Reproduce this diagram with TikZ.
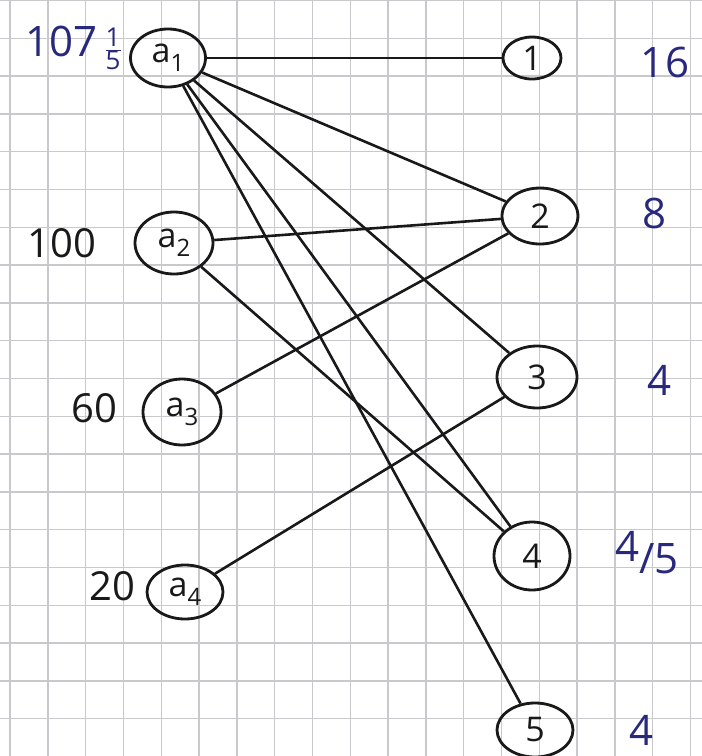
\documentclass[tikz,border=0pt]{standalone}
\usepackage{fontspec}
\setmainfont{Open Sans}
\usetikzlibrary{shapes.geometric}
\definecolor{ink}{RGB}{40,40,125}
\definecolor{pen}{RGB}{25,25,25}
\definecolor{gridc}{RGB}{200,200,205}
\newcommand{\av}[1]{a\raisebox{-9pt}{\fontsize{24}{24}\selectfont #1}}
\begin{document}
\begin{tikzpicture}[x=1pt,y=-1pt,
  vert/.style={draw=pen, ellipse, line width=2.8pt, inner sep=0pt, text=pen, font=\fontsize{34}{34}\selectfont},
  edge/.style={draw=pen, line width=2.6pt},
  blab/.style={text=ink, font=\fontsize{42}{42}\selectfont},
  klab/.style={text=pen, font=\fontsize{40}{40}\selectfont}]
\fill[white] (0,0) rectangle (702,756);
\useasboundingbox (0,0) rectangle (702,756);
\foreach \i in {0,...,18} \draw[gridc, line width=1.4pt] ({10+37.8*\i},0) -- ({10+37.8*\i},756);
\foreach \j in {0,...,20} \draw[gridc, line width=1.4pt] (0,{0.5+37.8*\j}) -- (702,{0.5+37.8*\j});
% left vertices
\node[vert, minimum width=75, minimum height=58] (a1) at (168,58) {\av{1}};
\node[vert, minimum width=78, minimum height=62] (a2) at (174,243) {\av{2}};
\node[vert, minimum width=78, minimum height=66] (a3) at (182,412) {\av{3}};
\node[vert, minimum width=76, minimum height=54] (a4) at (185,592) {\av{4}};
% right vertices
\node[vert, minimum width=58, minimum height=42] (n1) at (532,58) {1};
\node[vert, minimum width=76, minimum height=56] (n2) at (540,216) {2};
\node[vert, minimum width=80, minimum height=62] (n3) at (537,377) {3};
\node[vert, minimum width=76, minimum height=68] (n4) at (532,556) {4};
\node[vert, minimum width=76, minimum height=54] (n5) at (535,730) {5};
% edges
\draw[edge] (a1) -- (n1);
\draw[edge] (a1) -- (n2);
\draw[edge] (a1) -- (n3);
\draw[edge] (a1) -- (n4);
\draw[edge] (a1) -- (n5);
\draw[edge] (a2) -- (n2);
\draw[edge] (a2) -- (n4);
\draw[edge] (a3) -- (n2);
\draw[edge] (a4) -- (n3);
% left labels
\node[blab, anchor=east, inner sep=0pt] (l1) at (122,48) {107\,$\frac{\hbox{\fontsize{26}{26}\selectfont 1}}{\hbox{\fontsize{26}{26}\selectfont 5}}$};
\node[klab] (l2) at (62,243) {100};
\node[klab] (l3) at (94,408) {60};
\node[klab] (l4) at (112,586) {20};
% right labels
\node[blab] (r1) at (665,62) {16};
\node[blab] (r2) at (655,213) {8};
\node[blab] (r3) at (660,380) {4};
\node[blab] (r4) at (647,553) {4\raisebox{-12pt}{/5}};
\node[blab] (r5) at (642,730) {4};
\end{tikzpicture}
\end{document}
